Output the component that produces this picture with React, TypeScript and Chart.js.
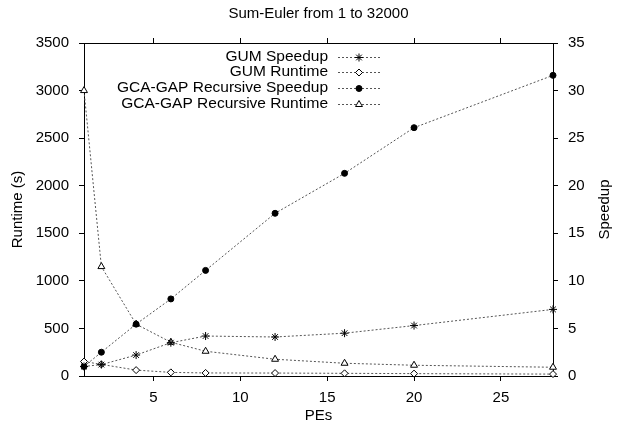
import React, { useEffect, useRef } from 'react';
import { Chart, registerables } from 'chart.js';
import { drawPoint } from 'chart.js/helpers';

Chart.register(...registerables);

// ---- Data ----
const pes = [1, 2, 4, 6, 8, 12, 16, 20, 28];
const gumSpeedup = [1.0, 1.2, 2.2, 3.5, 4.2, 4.1, 4.5, 5.3, 7.0];
const gumRuntime = [152, 122, 62, 38, 32, 31, 28, 25, 20];
const gcaSpeedup = [1.0, 2.5, 5.45, 8.1, 11.1, 17.1, 21.3, 26.1, 31.6];
const gcaRuntime = [3000, 1150, 545, 355, 260, 176, 134, 113, 92];
const seriesLabels = [
  'GUM Speedup',
  'GUM Runtime',
  'GCA-GAP Recursive Speedup',
  'GCA-GAP Recursive Runtime',
];
const xTicks = [5, 10, 15, 20, 25];
const chartTitle = 'Sum-Euler from 1 to 32000';
const xTitle = 'PEs';
const yTitle = 'Runtime (s)';
const y2Title = 'Speedup';

const FONT = "'Liberation Sans', Arial, Helvetica, sans-serif";
const LINE = '#555';

const overlay = {
  id: 'overlay',
  afterDraw(chart: any) {
    const ctx = chart.ctx as CanvasRenderingContext2D;
    const area = chart.chartArea;
    ctx.save();
    ctx.fillStyle = '#000';
    ctx.font = `15px ${FONT}`;
    ctx.textAlign = 'center';
    ctx.textBaseline = 'middle';
    ctx.fillText(chartTitle, (area.left + area.right) / 2, 14);

    ctx.save();
    ctx.translate(605, (area.top + area.bottom) / 2);
    ctx.rotate(-Math.PI / 2);
    ctx.fillText(y2Title, 0, 0);
    ctx.restore();

    ctx.font = `15.5px ${FONT}`;
    chart.data.datasets.forEach((ds: any, i: number) => {
      const y = Math.round(56.5 + 15.7 * i);
      ctx.fillStyle = '#000';
      ctx.textAlign = 'right';
      ctx.fillText(ds.label, 328, y);
      ctx.strokeStyle = ds.borderColor;
      ctx.lineWidth = 1;
      ctx.setLineDash(ds.borderDash || []);
      ctx.beginPath();
      ctx.moveTo(338, y + 0.5);
      ctx.lineTo(381, y + 0.5);
      ctx.stroke();
      ctx.setLineDash([]);
      ctx.strokeStyle = '#000';
      ctx.fillStyle = ds.pointBackgroundColor;
      drawPoint(ctx, { pointStyle: ds.pointStyle, radius: ds.pointRadius, borderWidth: 1, rotation: 0 } as any, 359, y + 0.5);
    });
    ctx.restore();
  },
};

export default function App() {
  const ref = useRef<HTMLCanvasElement>(null);

  useEffect(() => {
    if (!ref.current) return;
    const common = {
      borderColor: LINE,
      borderWidth: 1,
      borderDash: [2, 2],
      pointBorderColor: '#000',
      pointBorderWidth: 1,
      pointHoverRadius: 0,
      fill: false,
      tension: 0,
      clip: false as any,
    };
    const mk = (arr: number[]) => pes.map((x, i) => ({ x, y: arr[i] }));
    const tickFont = { family: FONT, size: 15 };
    const plain = (v: any) => String(v);
    const setX = (s: any) => {
      s.ticks = xTicks.map((v) => ({ value: v }));
    };
    const chart = new Chart(ref.current, {
      type: 'line',
      data: {
        datasets: [
          { ...common, label: seriesLabels[0], data: mk(gumSpeedup), yAxisID: 'y2', pointStyle: 'star', pointRadius: 4, pointBackgroundColor: '#000' },
          { ...common, label: seriesLabels[1], data: mk(gumRuntime), yAxisID: 'y', pointStyle: 'rectRot', pointRadius: 3.5, pointBackgroundColor: '#fff' },
          { ...common, label: seriesLabels[2], data: mk(gcaSpeedup), yAxisID: 'y2', pointStyle: 'circle', pointRadius: 3, pointBackgroundColor: '#000' },
          { ...common, label: seriesLabels[3], data: mk(gcaRuntime), yAxisID: 'y', pointStyle: 'triangle', pointRadius: 4, pointBackgroundColor: '#fff' },
        ] as any,
      },
      options: {
        animation: false,
        responsive: false,
        maintainAspectRatio: false,
        layout: { padding: 0 },
        plugins: {
          legend: { display: false },
          title: { display: false },
          tooltip: { enabled: false },
        },
        scales: {
          x: {
            type: 'linear',
            position: 'bottom',
            min: 1,
            max: 28,
            afterBuildTicks: setX,
            afterFit: (s: any) => { s.height = 52; },
            grid: { drawOnChartArea: false, tickLength: 5, color: '#000' },
            border: { color: '#000', width: 1 },
            ticks: { color: '#000', font: tickFont, padding: 8, maxRotation: 0, callback: plain },
            title: { display: true, text: xTitle, color: '#000', font: tickFont, padding: { top: 0, bottom: 3 } },
          },
          x2: {
            type: 'linear',
            position: 'top',
            min: 1,
            max: 28,
            afterBuildTicks: setX,
            afterFit: (s: any) => { s.height = 43; },
            grid: { drawOnChartArea: false, tickLength: 5, color: '#000' },
            border: { color: '#000', width: 1 },
            ticks: { display: false },
          },
          y: {
            type: 'linear',
            position: 'left',
            min: 0,
            max: 3500,
            afterFit: (s: any) => { s.width = 84; },
            grid: { drawOnChartArea: false, tickLength: 5, color: '#000' },
            border: { color: '#000', width: 1 },
            ticks: { stepSize: 500, color: '#000', font: tickFont, padding: 10, callback: plain },
            title: { display: true, text: yTitle, color: '#000', font: tickFont, padding: { top: 9, bottom: 0 } },
          },
          y2: {
            type: 'linear',
            position: 'right',
            min: 0,
            max: 35,
            afterFit: (s: any) => { s.width = 66; },
            grid: { drawOnChartArea: false, tickLength: 5, color: '#000' },
            border: { color: '#000', width: 1 },
            ticks: { stepSize: 5, color: '#000', font: tickFont, padding: 10, callback: plain },
          },
        },
      } as any,
      plugins: [overlay],
    });
    return () => chart.destroy();
  }, []);

  return (
    <div style={{ position: 'fixed', left: 0, top: 0, width: 619, height: 428, background: '#fff' }}>
      <canvas ref={ref} width={619} height={428} style={{ width: 619, height: 428, display: 'block' }} />
    </div>
  );
}
